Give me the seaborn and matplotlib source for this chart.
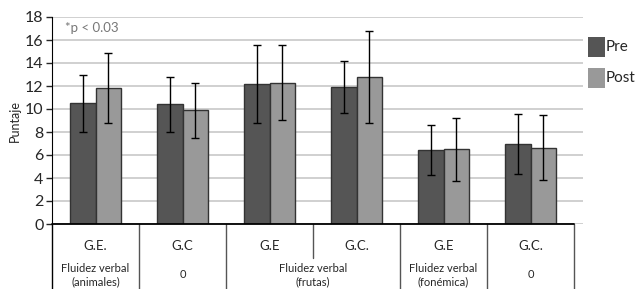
import pandas as pd
import matplotlib.pyplot as plt
import matplotlib.transforms as mtransforms
import seaborn as sns

# Values
groups = ["G.E.", "G.C", "G.E", "G.C.", "G.E ", "G.C. "]
pre_means = [10.5, 10.4, 12.2, 11.9, 6.45, 6.95]
post_means = [11.8, 9.9, 12.3, 12.8, 6.5, 6.65]
pre_sd = [2.5, 2.4, 3.4, 2.25, 2.2, 2.6]
post_sd = [3.05, 2.4, 3.25, 4.0, 2.75, 2.8]
outer_labels = ["Fluidez verbal\n(animales)", "0", "Fluidez verbal\n(frutas)",
                "Fluidez verbal\n(fonémica)", "0"]
outer_spans = [(0, 0), (1, 1), (2, 3), (4, 4), (5, 5)]
series = ["Pre", "Post"]
colors = {"Pre": "#555555", "Post": "#999999"}

df = pd.DataFrame({
    "Grupo": groups * 2,
    "Serie": ["Pre"] * 6 + ["Post"] * 6,
    "Puntaje": pre_means + post_means,
    "sd": pre_sd + post_sd,
})

sns.set_style("white")
plt.rcParams["font.family"] = ["Lato", "DejaVu Sans"]

fig = plt.figure(figsize=(6.35, 2.89), dpi=100)
W, H = 635, 289
ax = fig.add_axes([52 / W, 1 - 224 / H, (583 - 52) / W, 207 / H])

sns.barplot(data=df, x="Grupo", y="Puntaje", hue="Serie", order=groups,
            hue_order=series, palette=colors, errorbar=None, width=0.575,
            gap=0, edgecolor="#333333", linewidth=1.0, ax=ax, zorder=3,
            legend=False)

# error bars on top of each bar
for cont, s in zip(ax.containers, series):
    sub = df[df["Serie"] == s]
    xs = [p.get_x() + p.get_width() / 2 for p in cont.patches]
    ax.errorbar(xs, sub["Puntaje"], yerr=sub["sd"], fmt="none", ecolor="black",
                elinewidth=1.0, capsize=3, capthick=1.0, zorder=4)

ax.set_ylim(0, 18)
ax.set_yticks(range(0, 19, 2))
ax.set_xlim(-0.5, 5.5 + 9 / 87)
ax.yaxis.grid(True, color="#c8c8c8", linewidth=1.2, zorder=0)
ax.set_xticks([])
ax.set_xlabel("")
ax.set_ylabel("Puntaje", fontsize=9, labelpad=3)
ax.tick_params(axis="y", length=4, width=1, labelsize=11.5, pad=2, left=True)
for side in ["top", "right", "bottom"]:
    ax.spines[side].set_visible(False)
ax.spines["left"].set_color("black")

# Excel-style multi-level category axis
trans = mtransforms.blended_transform_factory(ax.transData, ax.transAxes)
bottom = -65 / 207
ax.plot([-0.5, 5.5], [0, 0], transform=trans, color="black", lw=1.3, clip_on=False, zorder=5)
ax.plot([-0.5, -0.5], [0, bottom], transform=trans, color="black", lw=1.0, clip_on=False)
for b in [0.5, 1.5, 3.5, 4.5, 5.5]:
    ax.plot([b, b], [0, bottom], transform=trans, color="#555555", lw=1.0, clip_on=False)
ax.plot([2.5, 2.5], [0, -34 / 207], transform=trans, color="#555555", lw=1.0, clip_on=False)
for i, g in enumerate(groups):
    ax.text(i, -22 / 207, g.strip(), transform=trans, ha="center", va="center", fontsize=9.5)
for lab, (a, b) in zip(outer_labels, outer_spans):
    ax.text((a + b) / 2, -51 / 207, lab, transform=trans, ha="center", va="center",
            fontsize=8, linespacing=1.2)

ax.text(-0.35, 17.0, "*p < 0.03", fontsize=9.5, color="#777777", va="center")

# legend
fig.patches.append(plt.Rectangle((588 / W, 1 - 57 / H), 17 / W, 20 / H, transform=fig.transFigure,
                                 facecolor=colors["Pre"], edgecolor="none"))
fig.patches.append(plt.Rectangle((588 / W, 1 - 88 / H), 17 / W, 20 / H, transform=fig.transFigure,
                                 facecolor=colors["Post"], edgecolor="none"))
fig.text(605.5 / W, 1 - 47 / H, "Pre", fontsize=11, va="center")
fig.text(605.5 / W, 1 - 78 / H, "Post", fontsize=11, va="center")

fig.savefig("out.png", dpi=100)
